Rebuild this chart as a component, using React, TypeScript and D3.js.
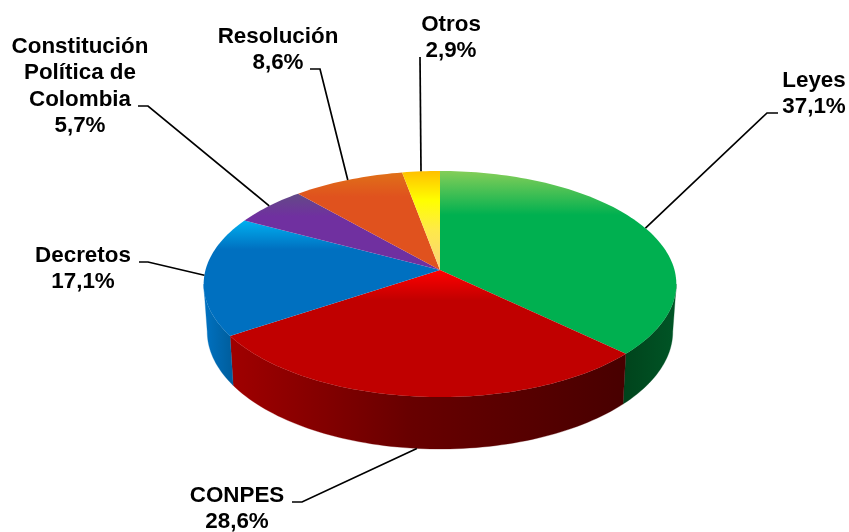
import React from "react";
import * as d3 from "d3";

const categories = ["Leyes", "CONPES", "Decretos", "Constitución Política de Colombia", "Resolución", "Otros"];
const shares = [37.1, 28.6, 17.1, 5.7, 8.6, 2.9];
const shareLabels = ["37,1%", "28,6%", "17,1%", "5,7%", "8,6%", "2,9%"];
const labelLines = [["Leyes", "37,1%"], ["CONPES", "28,6%"], ["Decretos", "17,1%"], ["Constitución", "Política de", "Colombia", "5,7%"], ["Resolución", "8,6%"], ["Otros", "2,9%"]];
const labelX = [814, 237, 83, 80, 278, 451];
const labelBaseline = [87, 502, 262, 53, 43, 31];
const elbows: [number, number][][] = [
  [[767, 113], [778, 113]],
  [[302, 502], [292, 502]],
  [[148, 262], [139, 262]],
  [[148, 106], [138, 106]],
  [[320, 69], [310, 69]],
  [[420, 57]],
];
const topStops = [
  [[0, "#84ce58"], [0.24, "#00b050"], [1, "#00b050"]],
  [[0, "#ff0000"], [0.24, "#c00000"], [1, "#c00000"]],
  [[0, "#00b0f0"], [0.25, "#0070c0"], [1, "#0070c0"]],
  [[0, "#634a86"], [0.3, "#7030a0"], [1, "#7030a0"]],
  [[0, "#e07018"], [0.25, "#e0521e"], [1, "#e0521e"]],
  [[0, "#ffc000"], [0.3, "#ffff00"], [0.6, "#fee94a"], [1, "#fad27a"]],
];
const sideStops = [
  [[0, "#00441c"], [1, "#005526"]],
  [[0, "#a00000"], [0.45, "#680000"], [1, "#480000"]],
  [[0, "#0072c2"], [1, "#005f9f"]],
];

const W = 849, H = 532;
// pie plane -> picture: a perspective projection fitted to the ellipse
const cx = 440, apexY = 270, halfW = 234.5, tiltY = 77.8, persp = -0.124;
const bottomY = 449, frontY = 397;
const rimX = (a: number) => cx + (halfW * Math.sin(a)) / (1 - persp * Math.cos(a));
const rimY = (a: number) => (-tiltY * Math.cos(a) + apexY) / (1 - persp * Math.cos(a));
const lowX = d3.scaleLinear().domain([cx, cx + 100]).range([cx, cx + 98.5]);
const lowY = d3.scaleLinear().domain([frontY, frontY - 100]).range([bottomY, bottomY - 104]);
const frontStart = Math.acos(persp);
const frontEnd = 2 * Math.PI - frontStart;

const arcs = d3.pie<number>().sort(null).startAngle(0).endAngle(2 * Math.PI)(shares);
const line = d3.line();
const sampleAngles = (a0: number, a1: number) => {
  const n = Math.max(2, Math.ceil((a1 - a0) * 40));
  return d3.range(n + 1).map((i) => a0 + ((a1 - a0) * i) / n);
};
const topPath = (a0: number, a1: number) =>
  line([[cx, apexY], ...sampleAngles(a0, a1).map((a) => [rimX(a), rimY(a)] as [number, number])])! + "Z";
const sidePath = (a0: number, a1: number) => {
  const s = sampleAngles(a0, a1);
  const upper = s.map((a) => [rimX(a), rimY(a)] as [number, number]);
  const lower = [...s].reverse().map((a) => [lowX(rimX(a)), lowY(rimY(a))] as [number, number]);
  return line([...upper, ...lower])! + "Z";
};
const leaderStart = (a0: number, a1: number): [number, number] => {
  const m = (a0 + a1) / 2;
  return m > frontStart && m < frontEnd ? [lowX(rimX(m)), lowY(rimY(m))] : [rimX(m), rimY(m)];
};

export default function App() {
  const font = { fontFamily: "'Liberation Sans', Arial, sans-serif", fontWeight: 700, fontSize: 22.4, fill: "#000" };
  return (
    <svg width={W} height={H} viewBox={`0 0 ${W} ${H}`} style={{ position: "absolute", left: 0, top: 0, background: "#fff" }}
      role="img" aria-label={categories.map((c, i) => `${c} ${shareLabels[i]}`).join(", ")}>
      <defs>
        <filter id="soft" x="-2%" y="-2%" width="104%" height="104%" colorInterpolationFilters="sRGB">
          <feGaussianBlur stdDeviation="0.4" />
        </filter>
        {topStops.map((st, i) => (
          <linearGradient key={i} id={`top${i}`} x1="0" y1="0" x2="0" y2="1">
            {st.map(([o, c], j) => <stop key={j} offset={o as number} stopColor={c as string} />)}
          </linearGradient>
        ))}
        {sideStops.map((st, i) => {
          const a0 = Math.max(arcs[i].startAngle, frontStart);
          const a1 = Math.min(arcs[i].endAngle, frontEnd);
          return (
            <linearGradient key={i} id={`side${i}`} gradientUnits="userSpaceOnUse" x1={rimX(a1)} x2={rimX(a0)} y1="0" y2="0">
              {st.map(([o, c], j) => <stop key={j} offset={o as number} stopColor={c as string} />)}
            </linearGradient>
          );
        })}
      </defs>
      <g filter="url(#soft)">
        {sideStops.map((_, i) => {
          const a0 = Math.max(arcs[i].startAngle, frontStart);
          const a1 = Math.min(arcs[i].endAngle, frontEnd);
          const fill = `url(#side${i})`;
          return <path key={i} d={sidePath(a0, a1)} fill={fill} stroke={fill} strokeWidth={0.3} />;
        })}
        {arcs.map((d, i) => (
          <path key={i} d={topPath(d.startAngle, d.endAngle)} fill={`url(#top${i})`} />
        ))}
        {arcs.map((d, i) => (
          <path key={i} d={line([leaderStart(d.startAngle, d.endAngle), ...elbows[i]])!} fill="none" stroke="#000" strokeWidth={1.7} />
        ))}
        {labelLines.map((ls, i) => (
          <text key={i} textAnchor="middle" {...font}>
            {ls.map((t, j) => (
              <tspan key={j} x={labelX[i]} y={labelBaseline[i] + j * 26.3}>{t}</tspan>
            ))}
          </text>
        ))}
      </g>
    </svg>
  );
}
